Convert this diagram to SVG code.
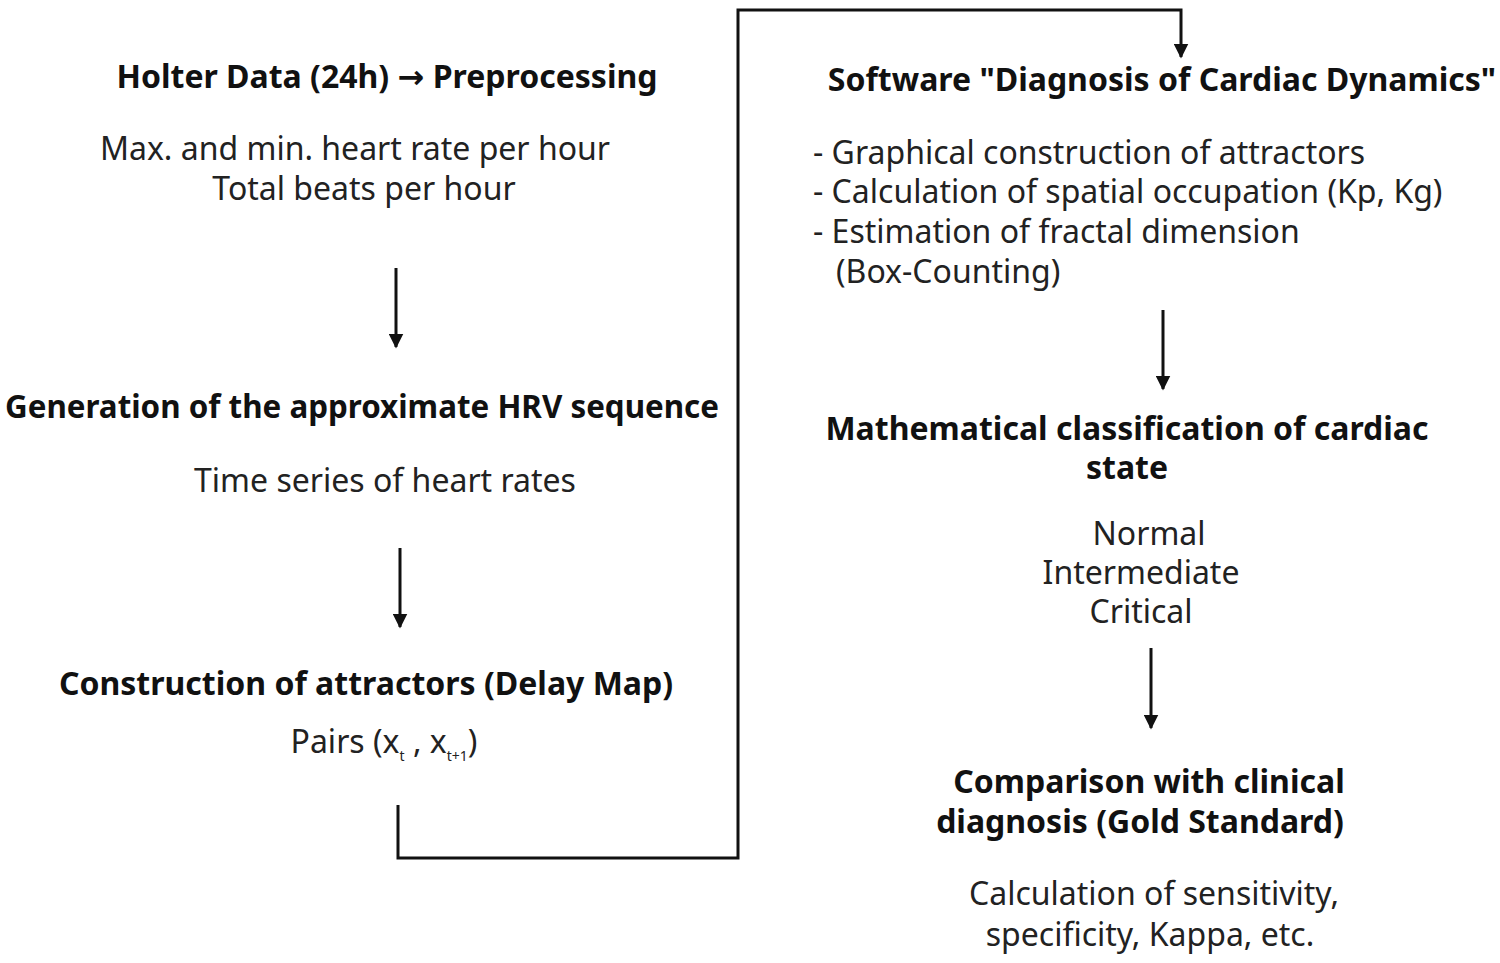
<svg xmlns="http://www.w3.org/2000/svg" width="1500" height="963" viewBox="0 0 1500 963">
<style>
.t{font-family:"Noto Sans","Open Sans",sans-serif;font-size:32px;fill:#111;font-weight:bold}
.b{font-family:"Noto Sans","Open Sans",sans-serif;font-size:32px;fill:#222}
.c{stroke:#111;stroke-width:3;fill:none}
</style>
<defs><marker id="a" viewBox="0 0 10 10" refX="9" refY="5" markerWidth="5" markerHeight="5" orient="auto"><path d="M0,0L10,5L0,10z" fill="#111"/></marker></defs>
<rect width="1500" height="963" fill="#fff"/>
<g id="connectors">
<line class="c" x1="396" y1="268" x2="396" y2="347" marker-end="url(#a)"/>
<line class="c" x1="400" y1="548" x2="400" y2="627" marker-end="url(#a)"/>
<line class="c" x1="1163" y1="310" x2="1163" y2="389" marker-end="url(#a)"/>
<line class="c" x1="1151" y1="648" x2="1151" y2="728" marker-end="url(#a)"/>
<path class="c" d="M398,805V858H738V10H1181V57" marker-end="url(#a)"/>
</g>
<g id="n1" text-anchor="middle">
<text class="t" x="387" y="88">Holter Data (24h) <tspan font-family="DejaVu Sans">→</tspan> Preprocessing</text>
<text class="b" x="355" y="160">Max. and min. heart rate per hour</text>
<text class="b" x="364" y="200">Total beats per hour</text>
</g>
<g id="n2" text-anchor="middle">
<text class="t" x="362" y="418" font-size="31" textLength="714" lengthAdjust="spacingAndGlyphs">Generation of the approximate HRV sequence</text>
<text class="b" x="385" y="492">Time series of heart rates</text>
</g>
<g id="n3" text-anchor="middle">
<text class="t" x="366" y="695">Construction of attractors (Delay Map)</text>
<text class="b" x="384" y="753">Pairs (x<tspan font-size="14" dy="8">t</tspan><tspan dy="-8"> , x</tspan><tspan font-size="14" dy="8">t+1</tspan><tspan dy="-8">)</tspan></text>
</g>
<g id="n4">
<text class="t" x="1162" y="91" text-anchor="middle">Software "Diagnosis of Cardiac Dynamics"</text>
<text class="b" x="813" y="164">- Graphical construction of attractors</text>
<text class="b" x="813" y="203">- Calculation of spatial occupation (Kp, Kg)</text>
<text class="b" x="813" y="243">- Estimation of fractal dimension</text>
<text class="b" x="836" y="283">(Box-Counting)</text>
</g>
<g id="n5" text-anchor="middle">
<text class="t" x="1127" y="440">Mathematical classification of cardiac</text>
<text class="t" x="1127" y="479">state</text>
<text class="b" x="1149" y="545">Normal</text>
<text class="b" x="1141" y="584">Intermediate</text>
<text class="b" x="1141" y="623">Critical</text>
</g>
<g id="n6" text-anchor="middle">
<text class="t" x="1149" y="793">Comparison with clinical</text>
<text class="t" x="1140" y="833">diagnosis (Gold Standard)</text>
<text class="b" x="1154" y="905">Calculation of sensitivity,</text>
<text class="b" x="1150" y="946">specificity, Kappa, etc.</text>
</g>
</svg>
